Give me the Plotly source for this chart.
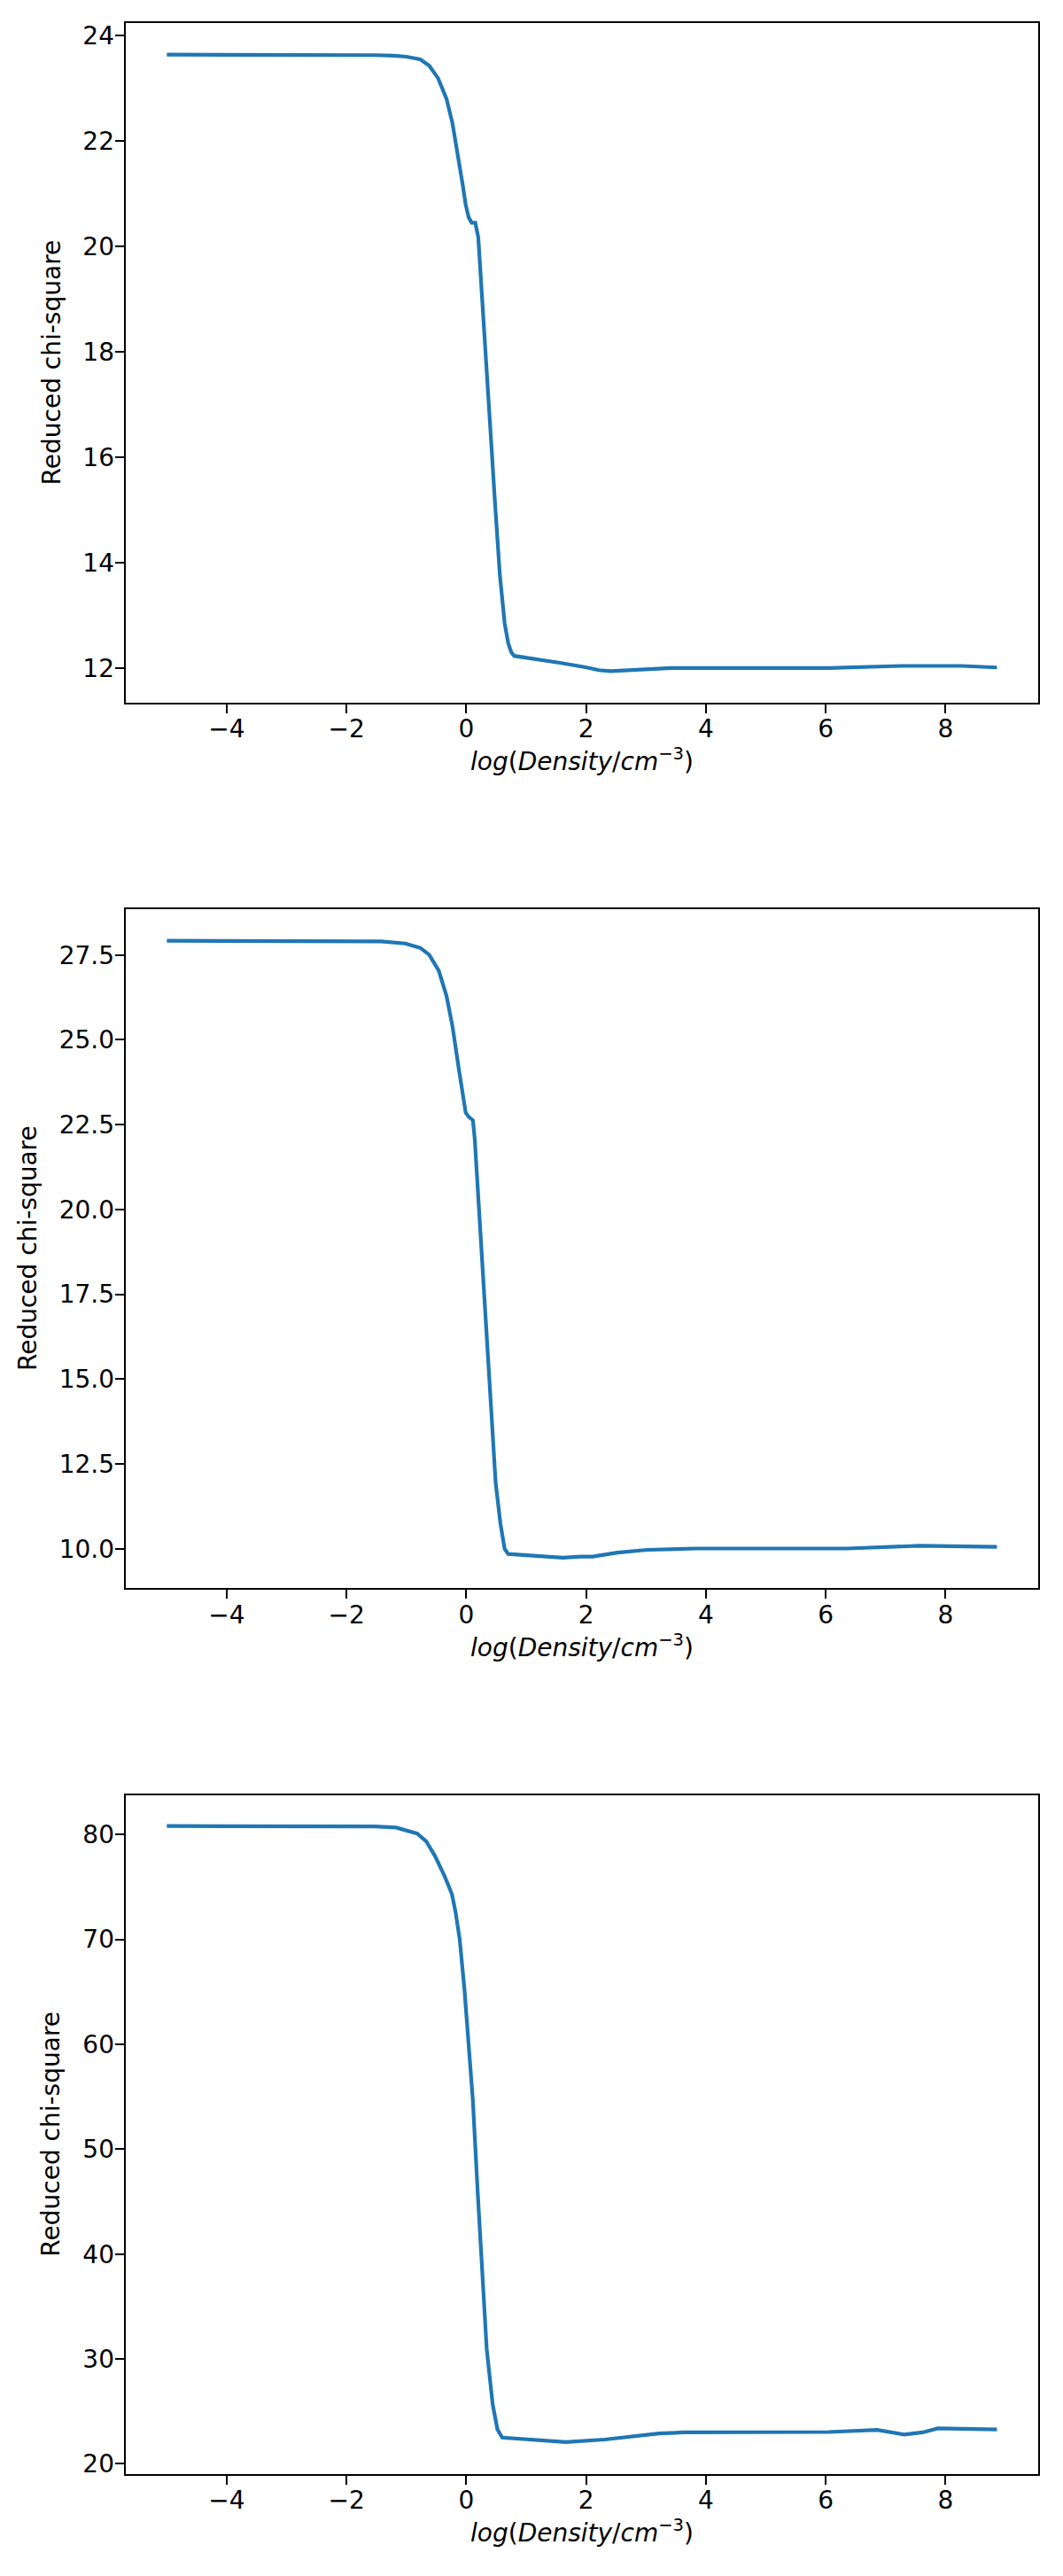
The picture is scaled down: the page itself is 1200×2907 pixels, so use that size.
import plotly.graph_objects as go

# ---- data ----
x1 = [-5.0, -4.0, -3.0, -2.0, -1.5, -1.2, -1.0, -0.77, -0.62, -0.47, -0.33, -0.23, -0.14,
      -0.06, -0.01, 0.04, 0.09, 0.15, 0.20, 0.24, 0.31, 0.39, 0.48, 0.56, 0.64, 0.70, 0.75,
      0.80, 1.25, 1.61, 2.01, 2.21, 2.41, 3.22, 3.42, 4.0, 5.0, 6.05, 7.26, 8.27, 8.86]
y1 = [23.64, 23.64, 23.63, 23.63, 23.63, 23.62, 23.60, 23.55, 23.43, 23.19, 22.80, 22.33, 21.75,
      21.17, 20.79, 20.55, 20.45, 20.45, 20.17, 19.44, 18.10, 16.56, 15.12, 13.77, 12.85, 12.47, 12.30,
      12.23, 12.16, 12.09, 12.01, 11.96, 11.94, 11.98, 12.00, 12.00, 12.00, 12.00, 12.04, 12.04, 12.01]

x2 = [-5.0, -4.0, -3.0, -2.0, -1.42, -1.02, -0.77, -0.62, -0.46, -0.33, -0.23, -0.13, -0.06,
      -0.01, 0.04, 0.11, 0.14, 0.19, 0.29, 0.39, 0.49, 0.57, 0.64, 0.70, 1.20, 1.61, 1.91,
      2.11, 2.52, 3.02, 3.83, 5.75, 6.35, 7.57, 8.86]
y2 = [27.92, 27.92, 27.91, 27.91, 27.90, 27.84, 27.71, 27.51, 27.04, 26.29, 25.39, 24.20, 23.30,
      22.85, 22.73, 22.63, 22.10, 20.60, 17.62, 14.48, 11.94, 10.74, 10.00, 9.85, 9.80, 9.74, 9.77,
      9.77, 9.89, 9.97, 10.01, 10.00, 10.01, 10.09, 10.06]

x3 = [-5.0, -4.0, -3.0, -2.0, -1.53, -1.17, -0.82, -0.67, -0.52, -0.36, -0.24, -0.18, -0.11,
      -0.03, 0.04, 0.11, 0.19, 0.27, 0.34, 0.44, 0.52, 0.60, 1.66, 2.31, 2.72, 3.22, 3.63,
      6.05, 6.86, 7.11, 7.31, 7.62, 7.87, 8.86]
y3 = [80.82, 80.81, 80.80, 80.79, 80.77, 80.67, 80.10, 79.37, 77.93, 76.00, 74.32, 72.63, 69.99,
      65.18, 60.36, 54.58, 45.92, 37.25, 30.99, 25.69, 23.28, 22.51, 22.08, 22.32, 22.61, 22.90, 23.00,
      23.04, 23.24, 22.95, 22.80, 23.00, 23.38, 23.28]

y_ranges = [[11.35, 24.235], [8.846, 28.854], [19.06, 83.77]]
y_dticks = [2, 2.5, 10]
y_formats = ["d", ".1f", "d"]
x_range = [-5.69, 9.553]
x_title = "<i>log</i>(<i>Density</i>/<i>cm</i><sup>−3</sup>)"
y_title = "Reduced chi-square"

# page has an 8px body margin; size the figure so it fits the 1200x2907 window
OFF = 8
W, H = 1200 - 2 * OFF, 2907 - 2 * OFF
# axis box pixel positions in page coords (top, bottom) for each panel
boxes = [(24.3, 792.7), (1026.7, 1795.0), (2029.3, 2797.3)]
x_left, x_right = 141.7, 1172.3
ylab_x = [58, 32, 58]

FONT = "DejaVu Sans"
BLUE = "#1f77b4"


def px_x(p):
    return (p - OFF) / W


def px_y(p):
    return 1 - (p - OFF) / H


fig = go.Figure()
series = [(x1, y1), (x2, y2), (x3, y3)]
layout = dict(
    width=W, height=H,
    margin=dict(l=0, r=0, t=0, b=0),
    paper_bgcolor="white", plot_bgcolor="white",
    showlegend=False,
    font=dict(family=FONT, size=28, color="black"),
    annotations=[],
)

for i, (xs, ys) in enumerate(series):
    n = "" if i == 0 else str(i + 1)
    fig.add_trace(go.Scatter(x=xs, y=ys, mode="lines",
                             line=dict(color=BLUE, width=4.2),
                             xaxis="x" + n, yaxis="y" + n))
    top, bot = boxes[i]
    common = dict(showline=True, linecolor="black", linewidth=2.2, mirror=True,
                  ticks="outside", ticklen=10, tickwidth=2.2, tickcolor="black",
                  showgrid=False, zeroline=False,
                  tickfont=dict(family=FONT, size=28, color="black"))
    layout["xaxis" + n] = dict(domain=[px_x(x_left), px_x(x_right)], range=x_range,
                               anchor="y" + n, tick0=0, dtick=2,
                               ticklabelstandoff=-6, **common)
    layout["yaxis" + n] = dict(domain=[px_y(bot), px_y(top)], range=y_ranges[i],
                               anchor="x" + n, tick0=0, dtick=y_dticks[i],
                               tickformat=y_formats[i], ticklabelstandoff=-5, **common)
    # x title
    layout["annotations"].append(dict(
        text=x_title, xref="paper", yref="paper",
        x=px_x((x_left + x_right) / 2), y=px_y(bot + 65.3),
        xanchor="center", yanchor="middle", showarrow=False,
        font=dict(family=FONT, size=28, color="black")))
    # y title
    layout["annotations"].append(dict(
        text=y_title, xref="paper", yref="paper",
        x=px_x(ylab_x[i]), y=px_y((top + bot) / 2),
        xanchor="center", yanchor="middle", showarrow=False, textangle=-90,
        font=dict(family=FONT, size=28, color="black")))

fig.update_layout(**layout)
fig.write_html("out.html")
